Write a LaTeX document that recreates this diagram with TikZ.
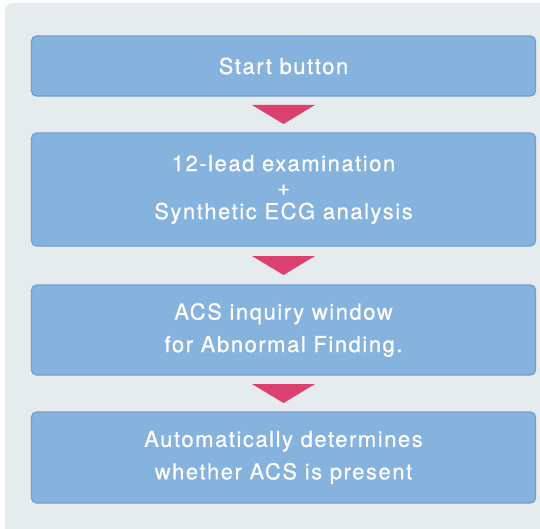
\documentclass[tikz,border=0pt]{standalone}
\usepackage{fontspec}
\setmainfont[LetterSpace=7,FakeBold=0.6]{TeX Gyre Heros}
\usetikzlibrary{calc}
\definecolor{panelbg}{HTML}{E6EBEE}
\definecolor{boxfill}{HTML}{86B2DE}
\definecolor{boxedge}{HTML}{6F9DD0}
\definecolor{arrowred}{HTML}{DC406E}
\tikzset{
  stepbox/.style={draw=boxedge, line width=1.2pt, fill=boxfill, rounded corners=5pt,
    minimum width=504pt, text=white, align=center, font=\fontsize{22}{24}\selectfont, inner sep=0pt},
  widelines/.style={font=\fontsize{22}{32.5}\selectfont},
  tri/.style={fill=arrowred, draw=none}
}
\newcommand{\downtri}[2]{%
  \fill[tri] ($(#1.south)!0.5!(#2.north)+(-31.5,-9.5)$) -- ($(#1.south)!0.5!(#2.north)+(31.5,-9.5)$) -- ($(#1.south)!0.5!(#2.north)+(0,9.5)$) -- cycle;}
\begin{document}
\begin{tikzpicture}[x=1pt,y=-1pt]
\useasboundingbox (0,0) rectangle (540,529);
\fill[panelbg, rounded corners=8pt] (5,3) -- (560,3) -- (560,560) -- (5,560) -- cycle;
\node[stepbox, minimum height=60pt] (b1) at (283.5,66) {Start button};
\node[stepbox, minimum height=113pt] (b2) at (283.5,189.5) {12-lead examination\\+\\Synthetic ECG analysis};
\node[stepbox, widelines, minimum height=90pt] (b3) at (283.5,330) {ACS inquiry window\\for Abnormal Finding.};
\node[stepbox, widelines, minimum height=91pt] (b4) at (283.5,457.5) {Automatically determines\\whether ACS is present};
\downtri{b1}{b2}
\downtri{b2}{b3}
\downtri{b3}{b4}
\end{tikzpicture}
\end{document}
